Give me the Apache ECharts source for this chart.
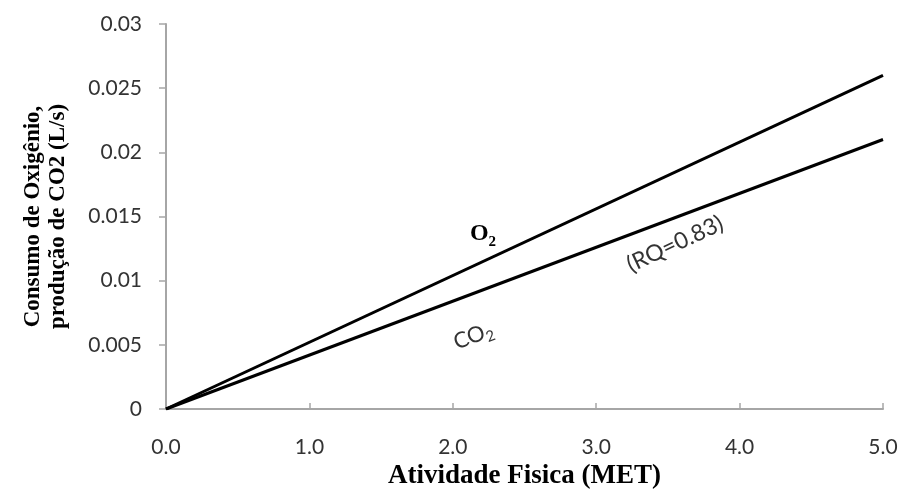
<!DOCTYPE html>
<html>
<head>
<meta charset="utf-8">
<script src="https://cdn.jsdelivr.net/npm/echarts@6/dist/echarts.min.js"></script>
<style>
  html, body { margin: 0; padding: 0; background: #fff; }
  #chart { width: 901px; height: 492px; }
</style>
</head>
<body>
<div id="chart"></div>
<script>
// Physical activity (MET) vs. O2 consumption / CO2 production (L/s)
const met = [0, 5];
const o2 = [0, 0.026];
const co2 = [0, 0.021];
const xTicks = [0, 1, 2, 3, 4, 5];
const yTicks = [0, 0.005, 0.01, 0.015, 0.02, 0.025, 0.03];

const tickFont = 'Lato, "Open Sans", sans-serif';
const titleFont = '"Liberation Serif", "Times New Roman", serif';
const labelColor = '#333333';

const chart = echarts.init(document.getElementById('chart'), null, { renderer: 'canvas' });

chart.setOption({
  animation: false,
  backgroundColor: '#ffffff',
  grid: { left: 166, right: 18, top: 24, bottom: 83, containLabel: false, outerBoundsMode: 'none' },
  xAxis: {
    type: 'value',
    min: xTicks[0],
    max: xTicks[xTicks.length - 1],
    interval: 1,
    axisLine: { show: true, lineStyle: { color: '#a6a6a6', width: 2 } },
    axisTick: { show: true, inside: true, length: 6, lineStyle: { color: '#a6a6a6', width: 1.5 } },
    splitLine: { show: false },
    axisLabel: {
      color: labelColor, fontSize: 21, fontFamily: tickFont, margin: 28,
      formatter: v => v.toFixed(1)
    },
    name: 'Atividade Fisica (MET)',
    nameLocation: 'middle',
    nameGap: 47,
    nameTextStyle: { color: '#000', fontSize: 27, fontWeight: 'bold', fontFamily: titleFont }
  },
  yAxis: {
    type: 'value',
    min: yTicks[0],
    max: yTicks[yTicks.length - 1],
    interval: 0.005,
    axisLine: { show: true, lineStyle: { color: '#a6a6a6', width: 2 } },
    axisTick: { show: true, inside: false, length: 7, lineStyle: { color: '#a6a6a6', width: 1.5 } },
    splitLine: { show: false },
    axisLabel: {
      color: labelColor, fontSize: 21, fontFamily: tickFont, margin: 24,
      formatter: v => String(+v.toFixed(3))
    },
    name: 'Consumo de Oxigênio,\nprodução de CO2 (L/s)',
    nameLocation: 'middle',
    nameRotate: 90,
    nameGap: 95,
    nameTextStyle: { color: '#000', fontSize: 23, fontWeight: 'bold', fontFamily: titleFont, lineHeight: 25 }
  },
  series: [
    {
      name: 'O2',
      type: 'line',
      data: met.map((x, i) => [x, o2[i]]),
      showSymbol: false,
      lineStyle: { color: '#000', width: 3 }
    },
    {
      name: 'CO2',
      type: 'line',
      data: met.map((x, i) => [x, co2[i]]),
      showSymbol: false,
      lineStyle: { color: '#000', width: 3 }
    }
  ],
  graphic: [
    {
      type: 'text', x: 483, y: 233,
      style: {
        text: '{a|O}{b|2}', align: 'center', verticalAlign: 'middle',
        rich: {
          a: { fontSize: 24, fontWeight: 'bold', fontFamily: titleFont, fill: '#000', lineHeight: 26, verticalAlign: 'bottom' },
          b: { fontSize: 15, fontWeight: 'bold', fontFamily: titleFont, fill: '#000', lineHeight: 26, verticalAlign: 'bottom', padding: [0, 0, -4, 0] }
        }
      }
    },
    {
      type: 'text', x: 473, y: 335, rotation: 21 * Math.PI / 180,
      style: {
        text: '{a|CO}{b|2}', align: 'center', verticalAlign: 'middle',
        rich: {
          a: { fontSize: 22, fontFamily: tickFont, fill: labelColor, lineHeight: 24, verticalAlign: 'bottom' },
          b: { fontSize: 15, fontFamily: tickFont, fill: labelColor, lineHeight: 24, verticalAlign: 'bottom', padding: [0, 0, -3, 0] }
        }
      }
    },
    {
      type: 'text', x: 675, y: 244, rotation: 25 * Math.PI / 180,
      style: {
        text: '(RQ=0.83)', align: 'center', verticalAlign: 'middle',
        fontSize: 23, fontFamily: tickFont, fill: labelColor
      }
    }
  ]
});
</script>
</body>
</html>
